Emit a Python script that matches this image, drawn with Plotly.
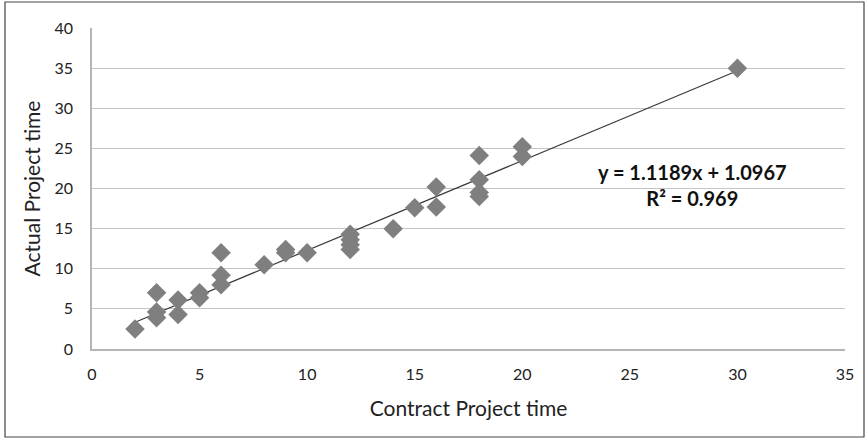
import plotly.graph_objects as go

contract_time = [2, 3, 3, 3, 4, 4, 5, 5, 6, 6, 6, 8, 9, 9, 10,
                 12, 12, 12, 12, 14, 15, 16, 16, 18, 18, 18, 18, 20, 20, 30]
actual_time = [2.5, 7, 4.6, 3.9, 6.1, 4.3, 7, 6.4, 12, 9.2, 8, 10.5, 12.4, 12, 12,
               14.3, 13.6, 13, 12.4, 15, 17.6, 20.2, 17.7, 24.1, 21.1, 19.5, 19, 25.2, 24, 35]

slope = 1.1189
intercept = 1.0967
r_squared = 0.969

font_family = "Lato, 'Open Sans', sans-serif"

L, R, T, B = 92, 23, 28, 91
PW, PH = 868 - L - R, 440 - T - B

x_line = [min(contract_time), max(contract_time)]
y_line = [slope * v + intercept for v in x_line]

fig = go.Figure()
fig.add_trace(go.Scatter(
    x=x_line, y=y_line, mode="lines",
    line=dict(color="#3a3a3a", width=1.2),
    hoverinfo="skip", showlegend=False,
))
fig.add_trace(go.Scatter(
    x=contract_time, y=actual_time, mode="markers",
    marker=dict(symbol="diamond", size=15, color="#7f7f7f"),
    showlegend=False,
))

fig.add_annotation(
    x=(692 - L) / PW, y=(440 - B - 184.5) / PH, xref="paper", yref="paper",
    xanchor="center", yanchor="middle",
    text=f"<b>y = {slope}x + {intercept}</b><br><b>R² = {r_squared}</b>",
    showarrow=False, align="center",
    font=dict(family=font_family, size=20, color="#111111"),
)

fig.add_shape(type="rect", xref="paper", yref="paper",
              x0=(5 - L) / PW, x1=(864 - L) / PW,
              y0=(440 - B - 437) / PH, y1=(440 - B - 2) / PH,
              line=dict(color="#444444", width=1.2), layer="below")

fig.update_layout(
    width=868, height=440,
    margin=dict(l=L, r=R, t=T, b=B, autoexpand=False),
    paper_bgcolor="white", plot_bgcolor="white",
    font=dict(family=font_family, color="#222222"),
    xaxis=dict(
        range=[0, 35], dtick=5, showgrid=False, zeroline=False,
        showline=True, linecolor="#b5b5b5", linewidth=1.5,
        ticks="", tickfont=dict(size=16, color="#222222"),
        ticklabelstandoff=10, automargin=False,
        title=dict(text="Contract Project time", font=dict(size=21, color="#222222"), standoff=19),
    ),
    yaxis=dict(
        range=[0, 40], dtick=5, showgrid=True, gridcolor="#c4c4c4", gridwidth=1.3,
        zeroline=False, showline=True, linecolor="#b5b5b5", linewidth=1.5,
        ticks="", tickfont=dict(size=16, color="#222222"),
        ticklabelstandoff=14, automargin=False,
        title=dict(text="Actual Project time", font=dict(size=21, color="#222222"), standoff=8),
    ),
)

fig.write_html("out.html", post_script="document.body.style.margin='0';",
               config={"displayModeBar": False})
